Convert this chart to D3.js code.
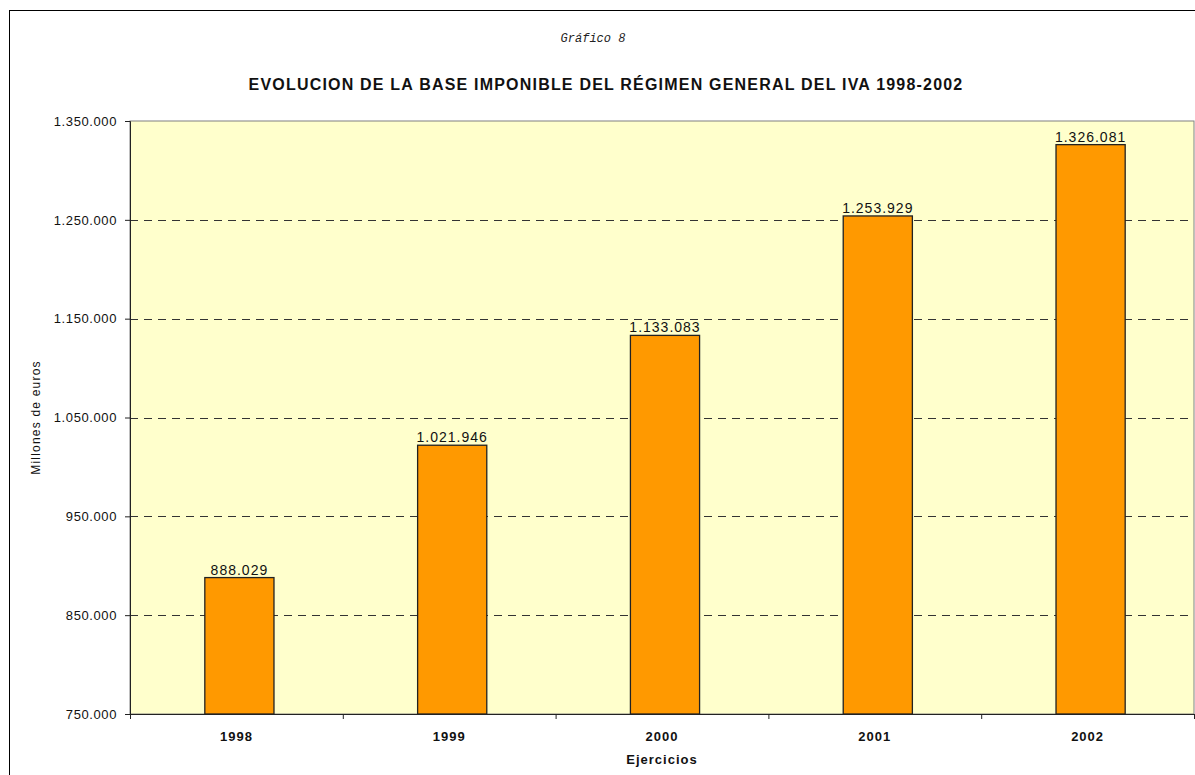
<!DOCTYPE html>
<html>
<head>
<meta charset="utf-8">
<script src="https://cdn.jsdelivr.net/npm/d3@7"></script>
<style>
  body { margin: 0; background: #fff; }
  svg { display: block; font-family: Arial, "Liberation Sans", sans-serif; }
</style>
</head>
<body>
<svg id="chart" width="1195" height="775"></svg>
<script>
var years = ["1998", "1999", "2000", "2001", "2002"];
var baseImponible = [888029, 1021946, 1133083, 1253929, 1326081];
var yTicks = [750000, 850000, 950000, 1050000, 1150000, 1250000, 1350000];

var es = d3.formatLocale({decimal: ",", thousands: ".", grouping: [3], currency: ["", " €"]});
var fmt = es.format(",d");

var svg = d3.select("#chart");
var margin = {left: 130, right: 1194, top: 121, bottom: 714};

// outer frame of the chart
svg.append("rect")
    .attr("x", 9.5).attr("y", 10.5)
    .attr("width", 1200).attr("height", 800)
    .attr("fill", "#fff").attr("stroke", "#000").attr("stroke-width", 1);

var x = d3.scaleBand().domain(years)
    .range([margin.left, margin.right])
    .paddingInner(0.675).paddingOuter(0.3375);

var y = d3.scaleLinear().domain([750000, 1350000])
    .range([margin.bottom, margin.top]);

// plot background
svg.append("rect")
    .attr("x", margin.left).attr("y", margin.top)
    .attr("width", margin.right - margin.left)
    .attr("height", margin.bottom - margin.top)
    .attr("fill", "#FFFFCC").attr("stroke", "#808080");

// dashed gridlines
svg.append("g").selectAll("line")
    .data(yTicks.slice(1, -1))
    .enter().append("line")
    .attr("x1", margin.left).attr("x2", margin.right)
    .attr("y1", function(d){ return Math.round(y(d)) + 0.5; })
    .attr("y2", function(d){ return Math.round(y(d)) + 0.5; })
    .attr("stroke", "#333").attr("stroke-dasharray", "8,6");

// bars (excel draws them a little right of the band centre)
var barShift = 3;
svg.append("g").selectAll("rect")
    .data(baseImponible)
    .enter().append("rect")
    .attr("x", function(d, i){ return x(years[i]) + barShift; })
    .attr("y", function(d){ return y(d); })
    .attr("width", x.bandwidth())
    .attr("height", function(d){ return y(750000) - y(d); })
    .attr("fill", "#FF9900").attr("stroke", "#222").attr("stroke-width", 1.3);

// value labels
svg.append("g").selectAll("text")
    .data(baseImponible)
    .enter().append("text")
    .attr("x", function(d, i){ return x(years[i]) + x.bandwidth() / 2 + barShift; })
    .attr("y", function(d){ return y(d) - 3; })
    .attr("text-anchor", "middle")
    .style("font-size", "14px").style("letter-spacing", "1px").style("fill", "#111")
    .text(function(d){ return fmt(d); });

// axes
var yAxis = d3.axisLeft(y).tickValues(yTicks).tickFormat(fmt).tickSize(5).tickPadding(8);
var gy = svg.append("g").attr("transform", "translate(" + margin.left + ",0)").call(yAxis);
gy.selectAll("text").style("font-size", "13px").style("letter-spacing", "0.6px").style("fill", "#111");
gy.selectAll("line, path").attr("stroke", "#222");

var xAxis = d3.axisBottom(d3.scaleLinear().domain([0, 5]).range([margin.left, margin.right]))
    .ticks(5).tickSize(5).tickFormat("");
var gx = svg.append("g").attr("transform", "translate(0," + margin.bottom + ")").call(xAxis);
gx.selectAll("line, path").attr("stroke", "#222");

svg.append("g").selectAll("text")
    .data(years)
    .enter().append("text")
    .attr("x", function(d){ return x(d) + x.bandwidth() / 2; })
    .attr("y", 741)
    .attr("text-anchor", "middle")
    .style("font-size", "13px").style("font-weight", "bold").style("letter-spacing", "1px").style("fill", "#111")
    .text(function(d){ return d; });

// titles
svg.append("text")
    .attr("x", 593).attr("y", 42)
    .attr("text-anchor", "middle")
    .style("font-family", "'Liberation Mono', 'DejaVu Sans Mono', monospace")
    .style("font-style", "italic").style("font-size", "12px").style("fill", "#222")
    .text("Gráfico 8");

svg.append("text")
    .attr("x", 606).attr("y", 90)
    .attr("text-anchor", "middle")
    .style("font-size", "16px").style("font-weight", "bold").style("fill", "#111")
    .style("letter-spacing", "1.2px")
    .text("EVOLUCION DE LA BASE IMPONIBLE DEL RÉGIMEN GENERAL DEL IVA 1998-2002");

svg.append("text")
    .attr("x", 662).attr("y", 764)
    .attr("text-anchor", "middle")
    .style("font-size", "13px").style("font-weight", "bold").style("letter-spacing", "1px").style("fill", "#111")
    .text("Ejercicios");

svg.append("text")
    .attr("transform", "translate(40," + ((margin.top + margin.bottom) / 2) + ") rotate(-90)")
    .attr("text-anchor", "middle")
    .style("font-size", "12px").style("letter-spacing", "1.2px").style("fill", "#111")
    .text("Millones de euros");
</script>
</body>
</html>
